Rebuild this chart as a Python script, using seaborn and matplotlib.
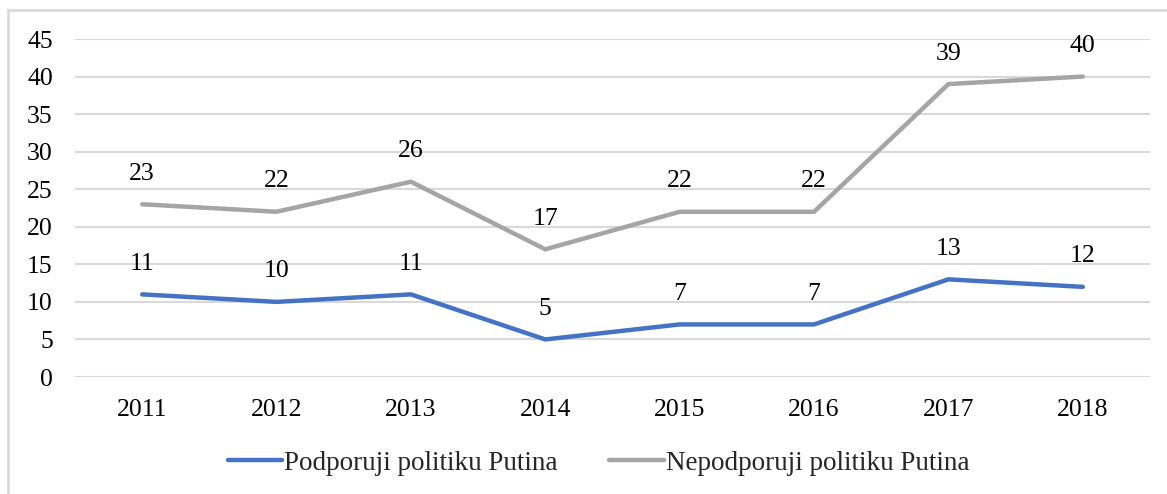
import matplotlib
matplotlib.use("Agg")
import matplotlib.pyplot as plt
import seaborn as sns
import pandas as pd
from matplotlib.patches import Rectangle
from matplotlib.lines import Line2D

years = ["2011", "2012", "2013", "2014", "2015", "2016", "2017", "2018"]
support = [11, 10, 11, 5, 7, 7, 13, 12]
oppose = [23, 22, 26, 17, 22, 22, 39, 40]
series_names = ["Podporuji politiku Putina", "Nepodporuji politiku Putina"]
colors = ["#4472C4", "#A5A5A5"]

sns.set_theme(style="white")
plt.rcParams["font.family"] = ["Liberation Serif", "DejaVu Serif"]

W, H = 1167, 494
fig = plt.figure(figsize=(W / 100, H / 100), dpi=100)
ax = fig.add_axes([75 / W, 1 - 377 / H, (1150 - 75) / W, (377 - 39) / H])

df = pd.DataFrame({
    "idx": list(range(len(years))) * 2,
    "value": support + oppose,
    "series": [series_names[0]] * len(years) + [series_names[1]] * len(years),
})
sns.lineplot(data=df, x="idx", y="value", hue="series", palette=colors,
             linewidth=3.2, ax=ax, legend=False, solid_capstyle="round")

for vals in (support, oppose):
    for i, v in enumerate(vals):
        ax.annotate(str(v), (i, v), xytext=(0, 22), textcoords="offset points",
                    ha="center", va="center", fontsize=18.5, color="#000000")

ax.set_xlim(-0.5, len(years) - 0.5)
ax.set_ylim(0, 45)
ax.set_yticks(range(0, 46, 5))
ax.set_xticks(range(len(years)))
ax.set_xticklabels(years)
ax.set_xlabel("")
ax.set_ylabel("")
ax.tick_params(axis="both", labelsize=18.5, colors="#000000", length=0)
ax.tick_params(axis="x", pad=16)
ax.tick_params(axis="y", pad=16)
ax.yaxis.grid(True, color="#D9D9D9", linewidth=1.5)
ax.set_axisbelow(True)
for s in ax.spines.values():
    s.set_visible(False)

handles = [Line2D([], [], color=c, linewidth=3.2, solid_capstyle="round") for c in colors]
fig.legend(handles, series_names, loc="center", bbox_to_anchor=(0.513, 1 - 463 / H),
           ncol=2, frameon=False, fontsize=19.5, handlelength=2.0, handletextpad=0.1,
           columnspacing=1.9)

fig.patches.append(Rectangle((8 / W, -0.1), 1.2, 1 - 10 / H + 0.1, transform=fig.transFigure,
                             fill=False, edgecolor="#D9D9D9", linewidth=2))

fig.savefig("out.png", dpi=100)
